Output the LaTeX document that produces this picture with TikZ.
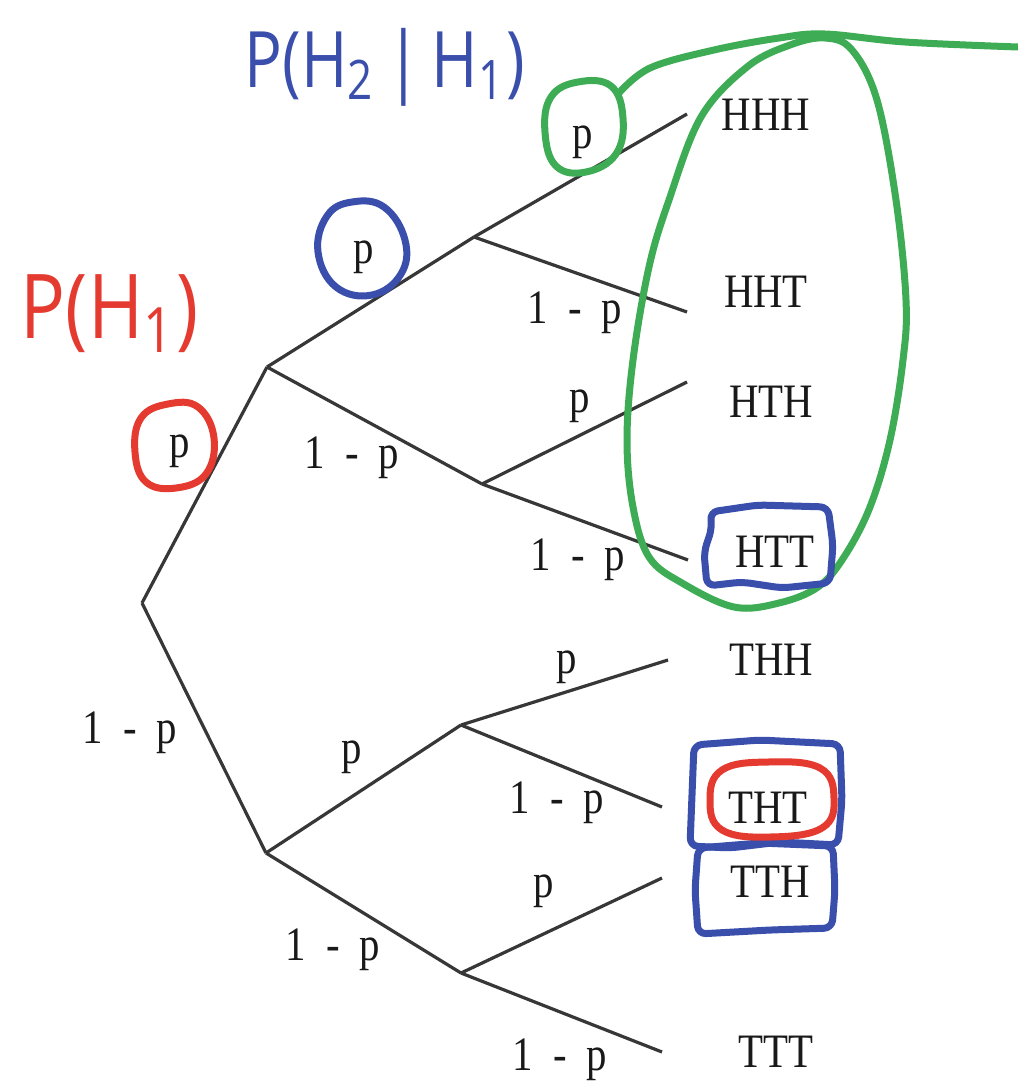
\documentclass[tikz,border=0pt]{standalone}
\usepackage{fontspec}
\usepackage{graphicx}
\setmainfont{Liberation Serif}
\newfontfamily\lblfont[FakeStretch=0.85]{Liberation Serif}
\newfontfamily\handfont{Open Sans}
\definecolor{treegray}{RGB}{55,55,55}
\definecolor{inkred}{RGB}{228,58,48}
\definecolor{inkblue}{RGB}{58,78,172}
\definecolor{inkgreen}{RGB}{62,172,84}
\newcommand\omp{1\hspace{20pt}-\hspace{20pt}p}
\begin{document}
\begin{tikzpicture}[x=1pt,y=-1pt,
  branch/.style={draw=treegray,line width=3.2pt},
  lbl/.style={font=\lblfont\fontsize{48}{48}\selectfont,text=black!90,anchor=base,inner sep=0pt},
  leaf/.style={font=\lblfont\fontsize{48}{48}\selectfont,text=black!90,anchor=base,inner sep=0pt},
  redink/.style={draw=inkred,line width=7pt,line cap=round,line join=round},
  blueink/.style={draw=inkblue,line width=7pt,line cap=round,line join=round},
  greenink/.style={draw=inkgreen,line width=7pt,line cap=round,line join=round}]
\useasboundingbox (0,0) rectangle (1018,1088);
\fill[white] (0,0) rectangle (1018,1088);

% tree junctions
\coordinate (r) at (142,603);
\coordinate (a) at (267,367);
\coordinate (b) at (266,853);
\coordinate (aa) at (474,237);
\coordinate (ab) at (482,484);
\coordinate (ba) at (461,725);
\coordinate (bb) at (461,973);
% branch ends
\coordinate (e1) at (687,114);
\coordinate (e2) at (687,312);
\coordinate (e3) at (687,382);
\coordinate (e4) at (688,560);
\coordinate (e5) at (668,660);
\coordinate (e6) at (662,807);
\coordinate (e7) at (662,878);
\coordinate (e8) at (662,1052);

\draw[branch] (r) -- (a);
\draw[branch] (r) -- (b);
\draw[branch] (a) -- (aa);
\draw[branch] (a) -- (ab);
\draw[branch] (b) -- (ba);
\draw[branch] (b) -- (bb);
\draw[branch] (aa) -- (e1);
\draw[branch] (aa) -- (e2);
\draw[branch] (ab) -- (e3);
\draw[branch] (ab) -- (e4);
\draw[branch] (ba) -- (e5);
\draw[branch] (ba) -- (e6);
\draw[branch] (bb) -- (e7);
\draw[branch] (bb) -- (e8);

% outcomes
\node[leaf] (l1) at (766,130) {HHH};
\node[leaf] (l2) at (766,307) {HHT};
\node[leaf] (l3) at (771,417) {HTH};
\node[leaf] (l4) at (775,567) {HTT};
\node[leaf] (l5) at (771,675) {THH};
\node[leaf] (l6) at (768,823) {THT};
\node[leaf] (l7) at (770,897) {TTH};
\node[leaf] (l8) at (776,1067) {TTT};

% branch labels
\node[lbl] (p1) at (180,457) {p};
\node[lbl] (q1) at (130,743) {\omp};
\node[lbl] (p2) at (364,263) {p};
\node[lbl] (q2) at (352,468) {\omp};
\node[lbl] (p3) at (352,763) {p};
\node[lbl] (q3) at (333,960) {\omp};
\node[lbl] (p4) at (583,148) {p};
\node[lbl] (q4) at (575,323) {\omp};
\node[lbl] (p5) at (580,412) {p};
\node[lbl] (q5) at (578,570) {\omp};
\node[lbl] (p6) at (567,673) {p};
\node[lbl] (q6) at (557,813) {\omp};
\node[lbl] (p7) at (544,897) {p};
\node[lbl] (q7) at (560,1070) {\omp};

% handwritten annotations
\node[text=inkred,inner sep=0pt] (ph1) at (110,314)
  {\resizebox*{178pt}{78pt}{\handfont P(H\textsubscript{1})}};
\node[text=inkblue,inner sep=0pt] (ph21) at (385,67)
  {\resizebox*{280pt}{78pt}{\handfont P(H\textsubscript{2}\,|\,H\textsubscript{1})}};

% red circle around p
\draw[redink] plot[smooth cycle,tension=0.7] coordinates
  {(135,452) (141,418) (168,404) (198,407) (214,438) (206,474) (176,488) (146,482)};
% blue circle around p
\draw[blueink] plot[smooth cycle,tension=0.7] coordinates
  {(318,252) (327,216) (352,202) (384,207) (405,240) (401,274) (372,295) (336,287)};
% green circle around p
\draw[greenink] plot[smooth cycle,tension=0.7] coordinates
  {(545,132) (551,97) (578,82) (611,86) (623,118) (616,154) (586,172) (556,166)};
% green tail line
\draw[greenink] plot[smooth,tension=0.6] coordinates
  {(618,94) (650,68) (714,50) (779,38) (825,34) (905,42) (1018,47)};
% green big loop
\draw[greenink] plot[smooth cycle,tension=0.6] coordinates
  {(825,38) (852,50) (877,100) (896,200) (906,300) (903,360) (890,440) (870,507)
   (844,557) (818,587) (779,603) (734,607) (682,583) (649,557) (633,507) (627,440)
   (633,360) (649,267) (669,200) (701,117) (747,67) (790,45)};

% blue boxes
\draw[blueink,rounded corners=8pt] (710,512) -- (758,505) -- (828,507) -- (833,545)
  -- (830,583) -- (782,588) -- (742,582) -- (707,586) -- (704,552) -- (712,528) -- cycle;
\draw[blueink,rounded corners=8pt] (694,745) -- (760,740) -- (840,744) -- (842,800)
  -- (838,845) -- (780,842) -- (730,848) -- (690,846) -- (692,795) -- cycle;
\draw[blueink,rounded corners=8pt] (698,848) -- (760,843) -- (833,846) -- (835,890)
  -- (832,928) -- (770,930) -- (698,934) -- (695,890) -- cycle;
% red ellipse around THT
\draw[redink] plot[smooth cycle,tension=0.7] coordinates
  {(710,800) (722,770) (768,762) (820,768) (834,798) (822,828) (770,837) (722,830)};
\end{tikzpicture}
\end{document}
